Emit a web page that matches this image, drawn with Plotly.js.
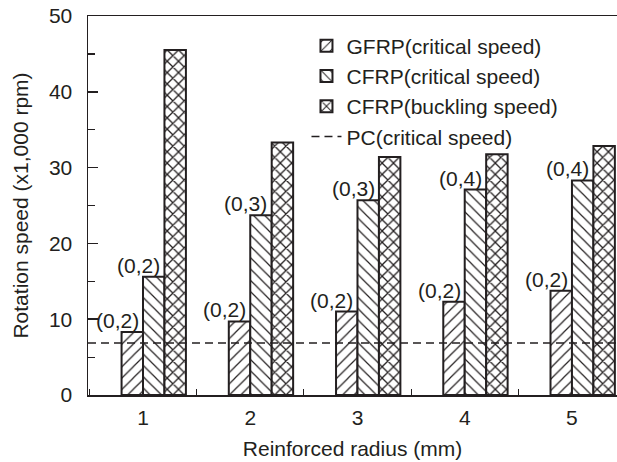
<!DOCTYPE html>
<html><head><meta charset="utf-8">
<script src="https://cdn.plot.ly/plotly-3.0.1.min.js"></script>
<style>html,body{margin:0;padding:0;background:#fff}#chart{width:617px;height:462px}</style>
</head><body><div id="chart"></div>
<script>
// ---- data ----
const radii = [1, 2, 3, 4, 5];
const tickLabels = ['1', '2', '3', '4', '5'];
const gfrpCritical = [8.3, 9.7, 11.0, 12.3, 13.75];
const cfrpCritical = [15.6, 23.7, 25.7, 27.1, 28.3];
const cfrpBuckling = [45.5, 33.3, 31.4, 31.75, 32.85];
const pcCritical = 6.85;
const gfrpModes = ['(0,2)', '(0,2)', '(0,2)', '(0,2)', '(0,2)'];
const cfrpModes = ['(0,2)', '(0,3)', '(0,3)', '(0,4)', '(0,4)'];
const seriesNames = ['GFRP(critical speed)', 'CFRP(critical speed)', 'CFRP(buckling speed)', 'PC(critical speed)'];

// ---- style ----
const FONT = 'Liberation Sans, Arial, sans-serif';
const FS = 21;
const INK = '#231f20';
const xRange = [0.487, 5.42];
const barW = 0.2;
const offsets = [-0.2, 0, 0.2];
const shapes = ['/', '\\', 'x'];
const solid = [0.15, 0.15, 0.3];
const psize = [8, 8, 8];

function barTrace(name, vals, k) {
  return {
    type: 'bar', name: name, x: radii, y: vals,
    width: barW, offset: offsets[k],
    marker: {
      color: '#ffffff',
      line: {color: INK, width: 2},
      pattern: {shape: shapes[k], fgcolor: INK, bgcolor: '#ffffff', size: psize[k], solidity: solid[k], fillmode: 'replace'}
    },
    hoverinfo: 'skip'
  };
}

const traces = [
  barTrace(seriesNames[0], gfrpCritical, 0),
  barTrace(seriesNames[1], cfrpCritical, 1),
  barTrace(seriesNames[2], cfrpBuckling, 2),
  {
    type: 'scatter', mode: 'lines', name: seriesNames[3],
    x: xRange, y: [pcCritical, pcCritical],
    line: {color: INK, width: 1.5, dash: '8px,5px'},
    hoverinfo: 'skip'
  }
];

const annotations = [];
radii.forEach((r, i) => {
  annotations.push({x: r + offsets[0] + barW / 2, y: gfrpCritical[i], text: gfrpModes[i],
    xref: 'x', yref: 'y', showarrow: false, xanchor: 'center', yanchor: 'bottom', xshift: -15, yshift: -2,
    font: {family: FONT, size: FS, color: INK}});
  annotations.push({x: r + offsets[1] + barW / 2, y: cfrpCritical[i], text: cfrpModes[i],
    xref: 'x', yref: 'y', showarrow: false, xanchor: 'center', yanchor: 'bottom', xshift: -15, yshift: -2,
    font: {family: FONT, size: FS, color: INK}});
});

const layout = {
  width: 617, height: 462,
  margin: {l: 88, r: 0, t: 16, b: 67},
  paper_bgcolor: '#ffffff', plot_bgcolor: '#ffffff',
  font: {family: FONT, size: FS, color: INK},
  barmode: 'overlay',
  showlegend: true,
  legend: {
    x: 0.413, y: 0.975, xanchor: 'left', yanchor: 'top',
    bgcolor: 'rgba(0,0,0,0)', borderwidth: 0,
    font: {family: FONT, size: FS, color: INK},
    traceorder: 'normal'
  },
  xaxis: {
    range: xRange, tickvals: radii, ticktext: tickLabels,
    ticks: '', showgrid: false, zeroline: false,
    showline: true, linecolor: INK, linewidth: 1.5, mirror: true,
    ticklabelstandoff: 3,
    minor: {tick0: 0.5, dtick: 1, ticks: 'inside', ticklen: 6, tickcolor: INK, tickwidth: 1.2, showgrid: false},
    title: {text: 'Reinforced radius (mm)', font: {family: FONT, size: FS, color: INK}, standoff: 13}
  },
  yaxis: {
    range: [0, 50], dtick: 10, tick0: 0,
    ticks: 'inside', ticklen: 10, tickwidth: 1.5, tickcolor: INK,
    showgrid: false, zeroline: false,
    showline: true, linecolor: INK, linewidth: 1.5, mirror: false,
    ticklabelstandoff: 10,
    minor: {dtick: 5, ticks: 'inside', ticklen: 7, tickcolor: INK, tickwidth: 1.2, showgrid: false},
    title: {text: 'Rotation speed (x1,000 rpm)', font: {family: FONT, size: FS, color: INK}, standoff: 14}
  },
  annotations: annotations
};

Plotly.newPlot('chart', traces, layout, {staticPlot: true, displayModeBar: false});
</script>
</body></html>
